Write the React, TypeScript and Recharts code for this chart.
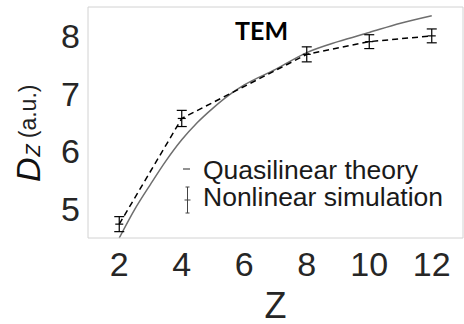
import React from "react";
import {
  ComposedChart,
  Line,
  XAxis,
  YAxis,
  ErrorBar,
  Legend,
} from "recharts";

// quasilinear theory curve
const zCurve = [2, 2.5, 3, 3.5, 4, 4.5, 5, 5.5, 6, 7, 8, 9, 10, 11, 12];
const dQuasi = [4.5, 5.0, 5.43, 5.84, 6.2, 6.5, 6.75, 6.97, 7.15, 7.42, 7.71, 7.9, 8.06, 8.22, 8.35];

// nonlinear simulation points with error bars
const zSim = [2, 4, 8, 10, 12];
const dSim = [4.74, 6.57, 7.68, 7.9, 8.0];
const errSim = [0.13, 0.14, 0.13, 0.12, 0.12];

const xTicks = [2, 4, 6, 8, 10, 12];
const yTicks = [5, 6, 7, 8];

const quasiData = zCurve.map((z, i) => ({ z, quasi: dQuasi[i] }));
const simData = zSim.map((z, i) => ({ z, sim: dSim[i], err: errSim[i] }));

const FONT = "'Liberation Sans', Arial, sans-serif";
const BOX = "#d2d2d2";
const CURVE = "#6e6e6e";

const SimDot = (props: any) => {
  const { cx, cy } = props;
  if (cx == null || cy == null) return null;
  return <line x1={cx - 4} x2={cx + 4} y1={cy} y2={cy} stroke="#000" strokeWidth={1.2} />;
};

const LegendBox = () => (
  <svg width={290} height={70} style={{ display: "block" }}>
    <line x1={5} x2={12} y1={19} y2={19} stroke={CURVE} strokeWidth={1.5} />
    <text x={25} y={29} fontFamily={FONT} fontSize={26.5} fill="#1a1a1a">
      Quasilinear theory
    </text>
    <line x1={9.5} x2={9.5} y1={37} y2={63} stroke="#444" strokeWidth={1} />
    <line x1={7.5} x2={11.5} y1={37} y2={37} stroke="#444" strokeWidth={1} />
    <line x1={7.5} x2={11.5} y1={63} y2={63} stroke="#444" strokeWidth={1} />
    <line x1={6.5} x2={12.5} y1={50} y2={50} stroke="#444" strokeWidth={1} />
    <text x={25} y={56} fontFamily={FONT} fontSize={26.5} fill="#1a1a1a">
      Nonlinear simulation
    </text>
  </svg>
);

const YLabel = () => (
  <text transform="translate(40,182) rotate(-90)" fontFamily={FONT} fill="#111">
    <tspan fontSize={34} fontStyle="italic">D</tspan>
    <tspan fontSize={20} fontStyle="italic" dx={1}>Z</tspan>
    <tspan fontSize={23} dx={6} dy={-4} fill="#222">(a.u.)</tspan>
  </text>
);

export default function App() {
  return (
    <div style={{ position: "absolute", left: 0, top: 0, width: 464, height: 324, background: "#fff" }}>
      <ComposedChart width={464} height={324} margin={{ top: 7, right: 1, bottom: 0, left: 0 }}>
        <XAxis
          xAxisId="main"
          dataKey="z"
          type="number"
          domain={[1, 13]}
          ticks={xTicks}
          allowDuplicatedCategory={false}
          height={86}
          tickLine={false}
          tickSize={0}
          tickMargin={14}
          axisLine={{ stroke: BOX }}
          tick={{ fill: "#262626", fontSize: 34, fontFamily: FONT }}
          label={{ value: "Z", position: "insideBottom", offset: 6, fill: "#262626", fontSize: 36, fontFamily: FONT }}
        />
        <XAxis
          xAxisId="bottomTicks"
          dataKey="z"
          type="number"
          domain={[1, 13]}
          ticks={xTicks}
          mirror
          tick={false}
          tickSize={4}
          axisLine={false}
          tickLine={{ stroke: BOX }}
        />
        <XAxis
          xAxisId="top"
          orientation="top"
          dataKey="z"
          type="number"
          domain={[1, 13]}
          ticks={xTicks}
          mirror
          tick={false}
          tickSize={4}
          axisLine={{ stroke: BOX }}
          tickLine={{ stroke: BOX }}
        />
        <YAxis
          yAxisId="main"
          type="number"
          domain={[4.5, 8.5]}
          ticks={yTicks}
          width={88}
          tickLine={false}
          tickSize={0}
          tickMargin={8}
          axisLine={{ stroke: BOX }}
          tick={{ fill: "#262626", fontSize: 34, fontFamily: FONT }}
          label={<YLabel />}
        />
        <YAxis
          yAxisId="leftTicks"
          type="number"
          domain={[4.5, 8.5]}
          ticks={yTicks}
          mirror
          tick={false}
          tickSize={4}
          axisLine={false}
          tickLine={{ stroke: BOX }}
        />
        <YAxis
          yAxisId="right"
          orientation="right"
          type="number"
          domain={[4.5, 8.5]}
          ticks={yTicks}
          mirror
          tick={false}
          tickSize={4}
          axisLine={{ stroke: BOX }}
          tickLine={{ stroke: BOX }}
        />
        <Line
          xAxisId="main"
          yAxisId="main"
          data={quasiData}
          dataKey="quasi"
          name="Quasilinear theory"
          type="monotone"
          stroke={CURVE}
          strokeWidth={1.5}
          dot={false}
          isAnimationActive={false}
        />
        <Line
          xAxisId="main"
          yAxisId="main"
          data={simData}
          dataKey="sim"
          name="Nonlinear simulation"
          type="linear"
          stroke="#000"
          strokeWidth={1.5}
          strokeDasharray="6 4"
          dot={<SimDot />}
          activeDot={false}
          isAnimationActive={false}
        >
          <ErrorBar dataKey="err" direction="y" width={5} stroke="#000" strokeWidth={1.2} isAnimationActive={false} />
        </Line>
        <Legend
          layout="horizontal"
          verticalAlign="middle"
          align="center"
          content={() => <LegendBox />}
          wrapperStyle={{ left: 178, top: 150, width: 290, height: 70 }}
        />
      </ComposedChart>
      <svg width={464} height={324} style={{ position: "absolute", left: 0, top: 0, pointerEvents: "none" }}>
        <text x={235} y={40} fontFamily="Lato, 'Open Sans', sans-serif" fontWeight={700} fontSize={25} fill="#000">
          TEM
        </text>
      </svg>
    </div>
  );
}
